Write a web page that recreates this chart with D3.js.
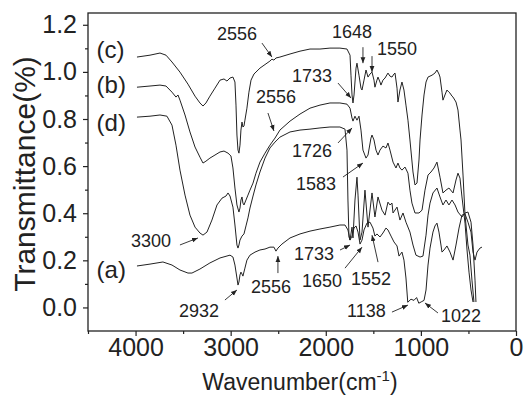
<!DOCTYPE html>
<html>
<head>
<meta charset="utf-8">
<style>
  body { margin: 0; background: #fff; }
  svg text { font-family: "Liberation Sans", Arial, sans-serif; fill: #222; }
</style>
</head>
<body>
<svg width="526" height="395"></svg>
<script src="https://d3js.org/d3.v7.min.js"></script>
<script>
// spectra: [wavenumber (cm-1), transmittance]
let curveA = [[3985,0.176],[3848,0.184],[3712,0.193],[3617,0.180],[3533,0.159],[3449,0.146],[3407,0.146],[3323,0.163],
  [3218,0.189],[3112,0.210],[3007,0.222],[2976,0.214],[2955,0.180],[2934,0.125],[2923,0.095],[2913,0.108],[2902,0.138],
  [2892,0.150],[2881,0.142],[2871,0.133],[2850,0.167],[2829,0.201],[2797,0.222],[2744,0.235],[2692,0.244],[2639,0.248],
  [2587,0.256],[2545,0.256],[2524,0.239],[2503,0.252],[2461,0.269],[2376,0.295],[2271,0.312],[2166,0.324],[2061,0.333],
  [1956,0.341],[1851,0.350],[1798,0.350],[1767,0.329],[1745,0.286],[1724,0.303],[1703,0.337],[1682,0.346],[1661,0.320],
  [1640,0.269],[1619,0.286],[1598,0.329],[1567,0.358],[1535,0.362],[1504,0.337],[1483,0.303],[1462,0.312],[1430,0.299],
  [1399,0.316],[1367,0.337],[1346,0.329],[1314,0.303],[1283,0.278],[1251,0.261],[1230,0.218],[1199,0.235],[1178,0.201],
  [1157,0.125],[1138,0.022],[1104,0.035],[1073,0.030],[1045,0.042],[1022,0.018],[990,0.025],[967,0.030],[946,0.074],
  [925,0.180],[904,0.252],[873,0.320],[852,0.346],[831,0.358],[810,0.320],[789,0.265],[778,0.235],[757,0.244],[726,0.261],
  [694,0.235],[662,0.201],[631,0.265],[599,0.337],[568,0.392],[536,0.397],[505,0.362],[473,0.320],[452,0.235],[431,0.201],
  [410,0.235],[379,0.252],[358,0.256]]

let curveB = [[3985,0.935],[3848,0.940],[3743,0.944],[3680,0.940],[3617,0.914],[3575,0.893],[3554,0.902],[3533,0.880],
  [3480,0.817],[3428,0.745],[3375,0.681],[3323,0.638],[3291,0.613],[3260,0.621],[3218,0.634],[3165,0.647],[3112,0.660],
  [3070,0.664],[3028,0.655],[2997,0.643],[2976,0.592],[2955,0.507],[2934,0.435],[2913,0.405],[2902,0.422],[2892,0.456],
  [2881,0.469],[2871,0.443],[2860,0.435],[2839,0.456],[2818,0.477],[2797,0.498],[2765,0.528],[2734,0.570],[2692,0.617],
  [2639,0.655],[2587,0.689],[2534,0.719],[2482,0.753],[2376,0.791],[2271,0.821],[2166,0.846],[2061,0.859],[1956,0.868],
  [1851,0.868],[1777,0.863],[1745,0.846],[1724,0.804],[1714,0.791],[1693,0.812],[1672,0.795],[1651,0.812],[1630,0.753],
  [1609,0.668],[1577,0.634],[1556,0.647],[1525,0.719],[1514,0.732],[1493,0.711],[1472,0.668],[1451,0.647],[1430,0.668],
  [1399,0.685],[1367,0.677],[1346,0.698],[1325,0.668],[1293,0.617],[1262,0.592],[1241,0.613],[1220,0.592],[1199,0.583],
  [1167,0.596],[1136,0.570],[1115,0.498],[1094,0.443],[1062,0.401],[1020,0.401],[988,0.413],[957,0.498],[925,0.562],
  [894,0.575],[862,0.592],[831,0.617],[799,0.553],[768,0.486],[736,0.498],[705,0.507],[662,0.486],[631,0.541],[610,0.570],
  [589,0.549],[568,0.469],[536,0.358],[515,0.244],[494,0.150],[473,0.074],[452,0.023]]

let curveC = [[3985,1.063],[3848,1.071],[3743,1.080],[3680,1.071],[3617,1.042],[3533,0.999],[3449,0.948],[3375,0.897],
  [3323,0.868],[3291,0.855],[3260,0.868],[3218,0.897],[3165,0.931],[3112,0.965],[3070,0.970],[3039,0.961],[3007,0.974],
  [2976,0.978],[2955,0.957],[2944,0.859],[2934,0.732],[2923,0.668],[2913,0.655],[2902,0.689],[2892,0.753],[2881,0.787],
  [2871,0.766],[2860,0.770],[2850,0.795],[2829,0.846],[2808,0.914],[2786,0.965],[2755,0.991],[2692,1.016],[2587,1.046],
  [2566,1.054],[2545,1.050],[2524,1.059],[2482,1.063],[2376,1.076],[2271,1.088],[2166,1.097],[2061,1.097],[1956,1.101],
  [1851,1.101],[1777,1.097],[1745,1.071],[1735,0.986],[1724,0.902],[1714,0.868],[1703,0.902],[1682,1.016],[1672,1.037],
  [1651,0.986],[1630,0.931],[1619,0.923],[1598,0.965],[1577,1.008],[1556,0.978],[1535,0.991],[1514,0.999],[1493,0.965],
  [1483,0.935],[1462,0.965],[1451,0.978],[1430,0.957],[1420,0.944],[1399,0.965],[1377,0.974],[1346,0.995],[1325,0.982],
  [1304,0.978],[1283,0.991],[1272,0.995],[1251,0.931],[1241,0.872],[1220,0.923],[1199,0.957],[1178,0.923],[1157,0.859],
  [1136,0.795],[1115,0.711],[1083,0.575],[1062,0.520],[1041,0.528],[1020,0.626],[1009,0.711],[988,0.817],[967,0.902],
  [946,0.957],[925,0.978],[883,0.986],[852,0.995],[831,1.008],[810,0.991],[799,0.978],[778,0.914],[768,0.880],[747,0.902],
  [726,0.923],[705,0.914],[694,0.910],[673,0.897],[662,0.893],[631,0.872],[610,0.838],[589,0.753],[578,0.711],[557,0.562],
  [536,0.392],[505,0.265],[484,0.222],[463,0.116],[442,0.023]]

let curveD = [[3985,0.808],[3848,0.812],[3743,0.817],[3670,0.812],[3617,0.774],[3575,0.689],[3533,0.583],[3480,0.477],
  [3428,0.392],[3375,0.341],[3323,0.316],[3291,0.307],[3249,0.320],[3197,0.371],[3144,0.435],[3091,0.464],[3049,0.473],
  [3028,0.486],[3007,0.473],[2976,0.426],[2955,0.350],[2934,0.265],[2923,0.252],[2913,0.265],[2902,0.286],[2881,0.303],
  [2860,0.312],[2839,0.346],[2818,0.380],[2797,0.422],[2765,0.473],[2734,0.520],[2692,0.575],[2639,0.634],[2587,0.677],
  [2534,0.702],[2482,0.723],[2376,0.745],[2271,0.753],[2166,0.757],[2061,0.762],[1956,0.766],[1851,0.766],[1798,0.757],
  [1777,0.668],[1767,0.456],[1756,0.299],[1745,0.286],[1724,0.341],[1714,0.295],[1693,0.456],[1672,0.553],[1661,0.477],
  [1640,0.286],[1619,0.320],[1588,0.498],[1556,0.341],[1514,0.486],[1483,0.384],[1451,0.469],[1409,0.413],[1377,0.392],
  [1346,0.447],[1325,0.435],[1304,0.443],[1293,0.401],[1251,0.426],[1220,0.371],[1188,0.401],[1157,0.362],[1115,0.320],
  [1083,0.265],[1052,0.222],[1009,0.214],[978,0.218],[946,0.307],[925,0.392],[904,0.443],[873,0.486],[831,0.507],
  [799,0.469],[768,0.435],[736,0.456],[705,0.435],[673,0.456],[641,0.435],[610,0.405],[568,0.384],[536,0.401],[505,0.405],
  [473,0.362],[452,0.265],[431,0.116],[421,0.023]]

let curveNames = ['(c)', '(b)', '(d)', '(a)']
let curveLabelT = [1.058, 0.910, 0.749, 0.125]

let xTicks = [4000, 3000, 2000, 1000, 0]
let xMinor = [4500, 3500, 2500, 1500, 500]
let yTicks = [0.0, 0.2, 0.4, 0.6, 0.8, 1.0, 1.2]
let yMinor = [0.1, 0.3, 0.5, 0.7, 0.9, 1.1]

// peak labels and where their arrows point (wavenumber, transmittance)
let peakText = ['2556', '1648', '1550', '1733', '2556', '1726', '1583', '3300', '2932', '2556', '1733', '1650', '1552', '1138', '1022']
let peakWn = [2566, 1609, 1514, 1735, 2545, 1724, 1609, 3344, 2934, 2503, 1745, 1619, 1514, 1136, 957]
let peakT = [1.063, 1.037, 0.999, 0.889, 0.749, 0.762, 0.613, 0.295, 0.074, 0.218, 0.265, 0.256, 0.307, 0.010, 0.019]

// layout: arrow tail and text offsets from the arrow tip, in pixels
let tailOff = [[-10,-14],[0,-16],[0,-16],[-13,-15],[-6,-18],[-14,15],[-20,14],[-18,7],[-12,10],[0,17],[-10,5],[-17,21],[6,27],[-16,7],[13,10]]
let textOff = [[-55,-17],[-31,-25],[5,-17],[-59,-16],[-18,-28],[-60,29],[-67,27],[-67,9],[-58,27],[-27,37],[-56,15],[-60,40],[-21,50],[-61,12],[16,19]]

let svg = d3.select("svg")

let x = d3.scaleLinear().domain([4500, 0]).range([88, 516])
let y = d3.scaleLinear().domain([-0.1, 1.25]).range([331, 13])

let defs = svg.append("defs")
defs.append("marker")
    .attr("id", "head")
    .attr("viewBox", "0 0 10 10")
    .attr("refX", 10)
    .attr("refY", 5)
    .attr("markerWidth", 6)
    .attr("markerHeight", 6)
    .attr("markerUnits", "userSpaceOnUse")
    .attr("orient", "auto")
  .append("path")
    .attr("d", "M0,1 L10,5 L0,9 Z")
    .style("fill", "#222")

// axes
let xAxis = svg.append("g")
    .attr("transform", "translate(0,331)")
    .call(d3.axisBottom(x).tickValues(xTicks).tickSize(5).tickPadding(2).tickFormat(d3.format("d")))
let xAxisMinor = svg.append("g")
    .attr("transform", "translate(0,331)")
    .call(d3.axisBottom(x).tickValues(xMinor).tickSize(3).tickFormat(""))
let yAxis = svg.append("g")
    .attr("transform", "translate(88,0)")
    .call(d3.axisLeft(y).tickValues(yTicks).tickSize(5).tickPadding(6).tickFormat(d3.format(".1f")))
let yAxisMinor = svg.append("g")
    .attr("transform", "translate(88,0)")
    .call(d3.axisLeft(y).tickValues(yMinor).tickSize(3).tickFormat(""))

svg.selectAll(".domain").remove()
svg.selectAll(".tick line").style("stroke", "#222").style("stroke-width", 1.2)
svg.selectAll(".tick text")
    .attr("font-family", '"Liberation Sans", Arial, sans-serif')
    .attr("font-size", 25)
    .style("fill", "#222")

svg.append("rect")
    .attr("x", x(4500))
    .attr("y", y(1.25))
    .attr("width", x(0) - x(4500))
    .attr("height", y(-0.1) - y(1.25))
    .style("fill", "none")
    .style("stroke", "#222")
    .style("stroke-width", 1.3)

// spectra
let line = d3.line()
    .x(d => x(d[0]))
    .y(d => y(d[1]))

let curves = [curveC, curveB, curveD, curveA]

svg.append("g")
    .selectAll("path")
    .data(curves)
    .join("path")
    .attr("d", line)
    .style("fill", "none")
    .style("stroke", "#222")
    .style("stroke-width", 1)
    .style("stroke-linejoin", "round")

svg.append("g")
    .selectAll("text")
    .data(curveNames)
    .join("text")
    .attr("x", x(4410))
    .attr("y", (d, i) => y(curveLabelT[i]))
    .attr("font-size", 24)
    .text(d => d)

// peak annotations
let ann = svg.append("g")
peakText.forEach(function (t, i) {
    let px = x(peakWn[i])
    let py = y(peakT[i])
    ann.append("line")
        .attr("x1", px + tailOff[i][0])
        .attr("y1", py + tailOff[i][1])
        .attr("x2", px)
        .attr("y2", py)
        .style("stroke", "#222")
        .style("stroke-width", 0.9)
        .attr("marker-end", "url(#head)")
    ann.append("text")
        .attr("x", px + textOff[i][0])
        .attr("y", py + textOff[i][1])
        .attr("font-size", 18)
        .text(t)
})

// axis titles
let xt = svg.append("text")
    .attr("x", 300)
    .attr("y", 390)
    .attr("text-anchor", "middle")
    .attr("font-size", 23)
xt.append("tspan").text("Wavenumber(cm")
xt.append("tspan").attr("font-size", 15).attr("dy", -9).text("-1")
xt.append("tspan").attr("dy", 9).text(")")

svg.append("text")
    .attr("transform", "translate(35,174) rotate(-90)")
    .attr("text-anchor", "middle")
    .attr("font-size", 30)
    .text("Transmittance(%)")
</script>
</body>
</html>
